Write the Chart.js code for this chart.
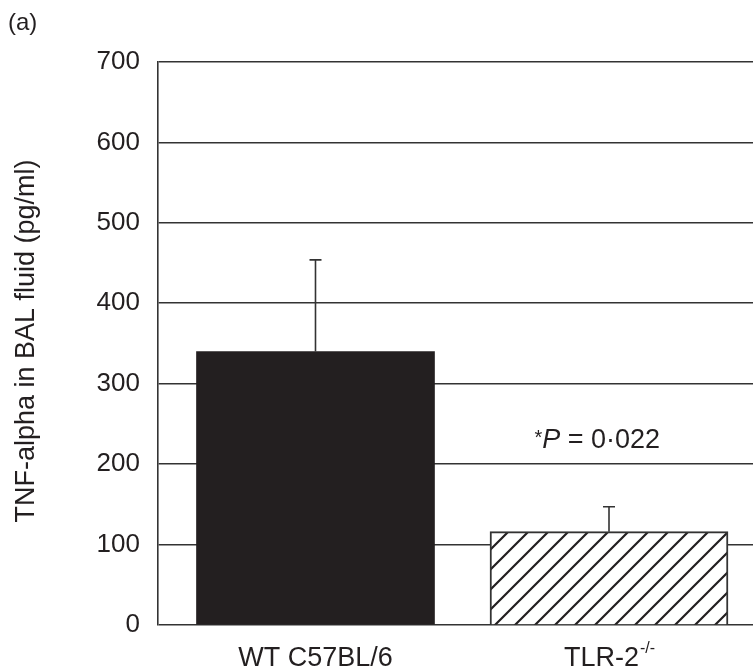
<!DOCTYPE html>
<html>
<head>
<meta charset="utf-8">
<script src="https://cdn.jsdelivr.net/npm/chart.js@4/dist/chart.umd.min.js"></script>
<style>
  html, body { margin: 0; padding: 0; background: #fff; }
  #wrap { position: relative; width: 753px; height: 672px; }
</style>
</head>
<body>
<div id="wrap"><canvas id="chart" width="753" height="672"></canvas></div>
<script>
// 数据
const groups = ['WT C57BL/6', 'TLR-2'];
const groupSup = ['', '-/-'];
const groupPos = [1, 2];
const tnfValues = [340, 116];
const tnfErrors = [114, 31];
const yTicks = [0, 100, 200, 300, 400, 500, 600, 700];
const yTitle = 'TNF-alpha in BAL fluid (pg/ml)';
const panelLabel = '(a)';
const pNote = { star: '*', p: 'P', rest: ' = 0·022', x: 1.96, y: 232 };

const INK = '#231f20';
const LINE = '#333333';
const FONT = '"Liberation Sans", Arial, Helvetica, sans-serif';

// 斜线填充
function makeHatch() {
    const c = document.createElement('canvas');
    c.width = 20; c.height = 20;
    const g = c.getContext('2d');
    g.fillStyle = '#fff';
    g.fillRect(0, 0, 20, 20);
    g.strokeStyle = INK;
    g.lineWidth = 2.2;
    g.beginPath();
    g.moveTo(-2, 22); g.lineTo(22, -2);
    g.moveTo(-5, 5); g.lineTo(5, -5);
    g.moveTo(15, 25); g.lineTo(25, 15);
    g.stroke();
    return g.createPattern(c, 'repeat');
}

// 误差线 + 文字
const extras = {
    id: 'extras',
    afterDatasetsDraw(chart) {
        const ctx = chart.ctx;
        const ys = chart.scales.y;
        const meta = chart.getDatasetMeta(0);
        ctx.save();
        ctx.strokeStyle = LINE;
        ctx.lineWidth = 1.6;
        meta.data.forEach((bar, i) => {
            const yb = ys.getPixelForValue(tnfValues[i]);
            const yt = ys.getPixelForValue(tnfValues[i] + tnfErrors[i]);
            ctx.beginPath();
            ctx.moveTo(bar.x, yb);
            ctx.lineTo(bar.x, yt);
            ctx.moveTo(bar.x - 6, yt);
            ctx.lineTo(bar.x + 6, yt);
            ctx.stroke();
        });
        ctx.restore();
    },
    afterDraw(chart) {
        const ctx = chart.ctx;
        const xs = chart.scales.x, ys = chart.scales.y;
        ctx.save();
        ctx.fillStyle = INK;
        ctx.textBaseline = 'alphabetic';

        // x 轴标签
        const baseY = 666;
        groups.forEach((g, i) => {
            const cx = xs.getPixelForValue(groupPos[i]);
            ctx.font = '27px ' + FONT;
            const w1 = ctx.measureText(g).width;
            ctx.font = '16px ' + FONT;
            const w2 = groupSup[i] ? ctx.measureText(groupSup[i]).width : 0;
            const x0 = cx - (w1 + w2) / 2;
            ctx.font = '27px ' + FONT;
            ctx.textAlign = 'left';
            ctx.fillText(g, x0, baseY);
            if (groupSup[i]) {
                ctx.font = '16px ' + FONT;
                ctx.fillText(groupSup[i], x0 + w1 + 1, baseY - 13);
            }
        });

        // y 轴标题
        ctx.save();
        ctx.translate(34, 341);
        ctx.rotate(-Math.PI / 2);
        ctx.font = '27px ' + FONT;
        ctx.textAlign = 'center';
        ctx.fillText(yTitle, 0, 0);
        ctx.restore();

        // P 值注释
        const px = xs.getPixelForValue(pNote.x);
        const py = ys.getPixelForValue(pNote.y) + 10;
        ctx.font = '20px ' + FONT;
        const ws = ctx.measureText(pNote.star).width;
        ctx.font = 'italic 27px ' + FONT;
        const wp = ctx.measureText(pNote.p).width;
        ctx.font = '27px ' + FONT;
        const wr = ctx.measureText(pNote.rest).width;
        let x = px - (ws + wp + wr) / 2;
        ctx.textAlign = 'left';
        ctx.font = '20px ' + FONT;
        ctx.fillText(pNote.star, x, py - 4);
        x += ws;
        ctx.font = 'italic 27px ' + FONT;
        ctx.fillText(pNote.p, x, py);
        x += wp;
        ctx.font = '27px ' + FONT;
        ctx.fillText(pNote.rest, x, py);

        // 面板标记
        ctx.font = '24px ' + FONT;
        ctx.fillText(panelLabel, 8, 30);
        ctx.restore();
    }
};

const hatch = makeHatch();

new Chart(document.getElementById('chart'), {
    type: 'bar',
    data: {
        datasets: [{
            data: groupPos.map((x, i) => ({ x: x, y: tnfValues[i] })),
            backgroundColor: [INK, hatch],
            borderColor: [INK, LINE],
            borderWidth: [0, 2],
            borderSkipped: 'start',
            barThickness: 238
        }]
    },
    options: {
        responsive: false,
        animation: false,
        layout: { padding: { top: 62, right: 0, bottom: 47, left: 0 } },
        plugins: { legend: { display: false }, tooltip: { enabled: false } },
        scales: {
            x: {
                type: 'linear',
                display: false,
                offset: false,
                min: 0.4634,
                max: 2.4906
            },
            y: {
                min: 0,
                max: 700,
                afterFit(scale) { scale.width = 158; },
                afterBuildTicks(scale) { scale.ticks = yTicks.map(v => ({ value: v })); },
                grid: { color: LINE, lineWidth: 1.6, drawTicks: false },
                border: { display: true, color: LINE, width: 1.6 },
                ticks: {
                    padding: 18,
                    color: INK,
                    font: { family: FONT, size: 26 }
                }
            }
        }
    },
    plugins: [extras]
});
</script>
</body>
</html>
